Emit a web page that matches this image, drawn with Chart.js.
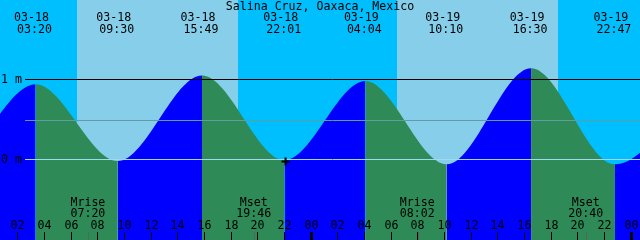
<!DOCTYPE html>
<html>
<head>
<meta charset="utf-8">
<script src="https://cdn.jsdelivr.net/npm/chart.js@4"></script>
<style>
  body { margin: 0; background: #fff; }
  canvas { display: block; }
</style>
</head>
<body>
<canvas id="tideChart" width="640" height="240"></canvas>
<script>
const title = "Salina Cruz, Oaxaca, Mexico";

// high and low tides, first two and last one sit off the edges
const tideTimes = ["03-17 15:05", "03-17 21:10", "03-18 03:20", "03-18 09:30", "03-18 15:49", "03-18 22:01",
                   "03-19 04:04", "03-19 10:10", "03-19 16:30", "03-19 22:47", "03-20 05:00"];
const tideLevels = [1.00, 0.01, 0.94, -0.02, 1.05, -0.01, 0.98, -0.06, 1.14, -0.06, 0.87];

const sunTimes = ["03-18 06:26", "03-18 18:31", "03-19 06:26", "03-19 18:31"];
const moonEvents = ["Mrise", "Mset", "Mrise", "Mset"];
const moonTimes = ["03-18 07:20", "03-18 19:46", "03-19 08:02", "03-19 20:40"];

const tickHours = [2, 4, 6, 8, 10, 12, 14, 16, 18, 20, 22, 24, 26, 28, 30, 32, 34, 36, 38, 40, 42, 44, 46, 48];
const levelTicks = [0, 1];
const meanLevel = 0.49;

const markTimes = ["03-18 22:05"];
const markLevels = [-0.025];

const startTime = "03-18 00:40";
const spanHours = 48;

const NIGHT = "#00BFFF";
const DAY = "#87CEEB";
const RISE = "#0000FF";
const FALL = "#2E8B57";
const FONT = "11.6px 'DejaVu Sans Mono', monospace";

// "MM-DD HH:MM" -> hours since 03-18 00:00
function toHours(s) {
  const day = Number(s.slice(3, 5));
  const h = Number(s.slice(6, 8));
  const m = Number(s.slice(9, 11));
  return (day - 18) * 24 + h + m / 60;
}

const xMin = toHours(startTime);
const xMax = xMin + spanHours;

const tidePlugin = {
  id: "tide",
  beforeDraw(chart) {
    const {ctx, chartArea: a, scales: {x}} = chart;
    ctx.save();
    ctx.fillStyle = NIGHT;
    ctx.fillRect(a.left, a.top, a.width, a.height);
    ctx.fillStyle = DAY;
    for (let i = 0; i < sunTimes.length; i += 2) {
      const x0 = Math.round(x.getPixelForValue(toHours(sunTimes[i])));
      const x1 = Math.round(x.getPixelForValue(toHours(sunTimes[i + 1])));
      ctx.fillRect(x0, a.top, x1 - x0, a.height);
    }
    ctx.restore();
  },
  afterDatasetDraw(chart, args) {
    if (args.index !== 0) return;
    const {ctx, chartArea: a, scales: {y}} = chart;
    ctx.save();
    ctx.lineWidth = 1;
    const line = (v, color) => {
      const yp = Math.floor(y.getPixelForValue(v)) + 0.5;
      ctx.strokeStyle = color;
      ctx.beginPath();
      ctx.moveTo(25, yp);
      ctx.lineTo(a.right, yp);
      ctx.stroke();
    };
    line(meanLevel, "#5F9EA0");
    levelTicks.forEach(v => line(v, v === 0 ? "#9FD9F0" : "#000000"));
    ctx.restore();
  },
  afterDraw(chart) {
    const {ctx, chartArea: a, scales: {x, y}} = chart;
    ctx.save();
    ctx.font = FONT;
    ctx.fillStyle = "#000";
    ctx.textBaseline = "alphabetic";

    ctx.textAlign = "center";
    ctx.fillText(title, 320, 10);

    // tide extremes along the top
    tideTimes.forEach(t => {
      const xp = x.getPixelForValue(toHours(t));
      if (xp < a.left || xp > a.right) return;
      ctx.fillText(t.slice(0, 5), xp - 4, 21);
      ctx.fillText(t.slice(6), xp - 1, 33);
    });

    // level labels
    ctx.textAlign = "left";
    levelTicks.forEach(v => {
      ctx.fillText(v + " m", 1, Math.floor(y.getPixelForValue(v)) + 4);
    });

    // moon events
    ctx.textAlign = "center";
    moonTimes.forEach((t, i) => {
      const xp = x.getPixelForValue(toHours(t));
      ctx.fillText(moonEvents[i], xp - 1, 206);
      ctx.fillText(t.slice(6), xp - 1, 217);
      ctx.strokeStyle = "#556655";
      ctx.lineWidth = 1;
      ctx.beginPath();
      ctx.moveTo(Math.floor(xp) + 0.5, 232);
      ctx.lineTo(Math.floor(xp) + 0.5, 240);
      ctx.stroke();
    });

    // hour ticks
    ctx.strokeStyle = "#000";
    tickHours.forEach(h => {
      const xp = Math.floor(x.getPixelForValue(h)) + 0.5;
      ctx.fillText(String(h % 24).padStart(2, "0"), xp, 229);
      ctx.lineWidth = h % 24 === 0 ? 3 : 1;
      ctx.beginPath();
      ctx.moveTo(xp, 232);
      ctx.lineTo(xp, 240);
      ctx.stroke();
    });
    ctx.restore();
  }
};

new Chart(document.getElementById("tideChart"), {
  type: "line",
  data: {
    datasets: [{
      data: tideTimes.map((t, i) => ({x: toHours(t), y: tideLevels[i]})),
      order: 1,
      fill: "start",
      cubicInterpolationMode: "monotone",
      borderColor: "rgba(0,0,0,0)",
      borderWidth: 0,
      pointRadius: 0,
      backgroundColor: RISE,
      segment: {
        backgroundColor: c => c.p1.parsed.y > c.p0.parsed.y ? RISE : FALL
      }
    }, {
      // the cross goes on top of the water
      data: markTimes.map((t, i) => ({x: toHours(t), y: markLevels[i]})),
      order: 0,
      showLine: false,
      pointStyle: "cross",
      pointRadius: 4,
      borderColor: "#000",
      borderWidth: 2
    }]
  },
  options: {
    responsive: false,
    animation: false,
    layout: { padding: 0, autoPadding: false },
    plugins: { legend: { display: false }, tooltip: { enabled: false } },
    scales: {
      x: { type: "linear", display: false, min: xMin, max: xMax },
      y: { display: false, min: -1.00625, max: 1.99375 }
    }
  },
  plugins: [tidePlugin]
});
</script>
</body>
</html>
